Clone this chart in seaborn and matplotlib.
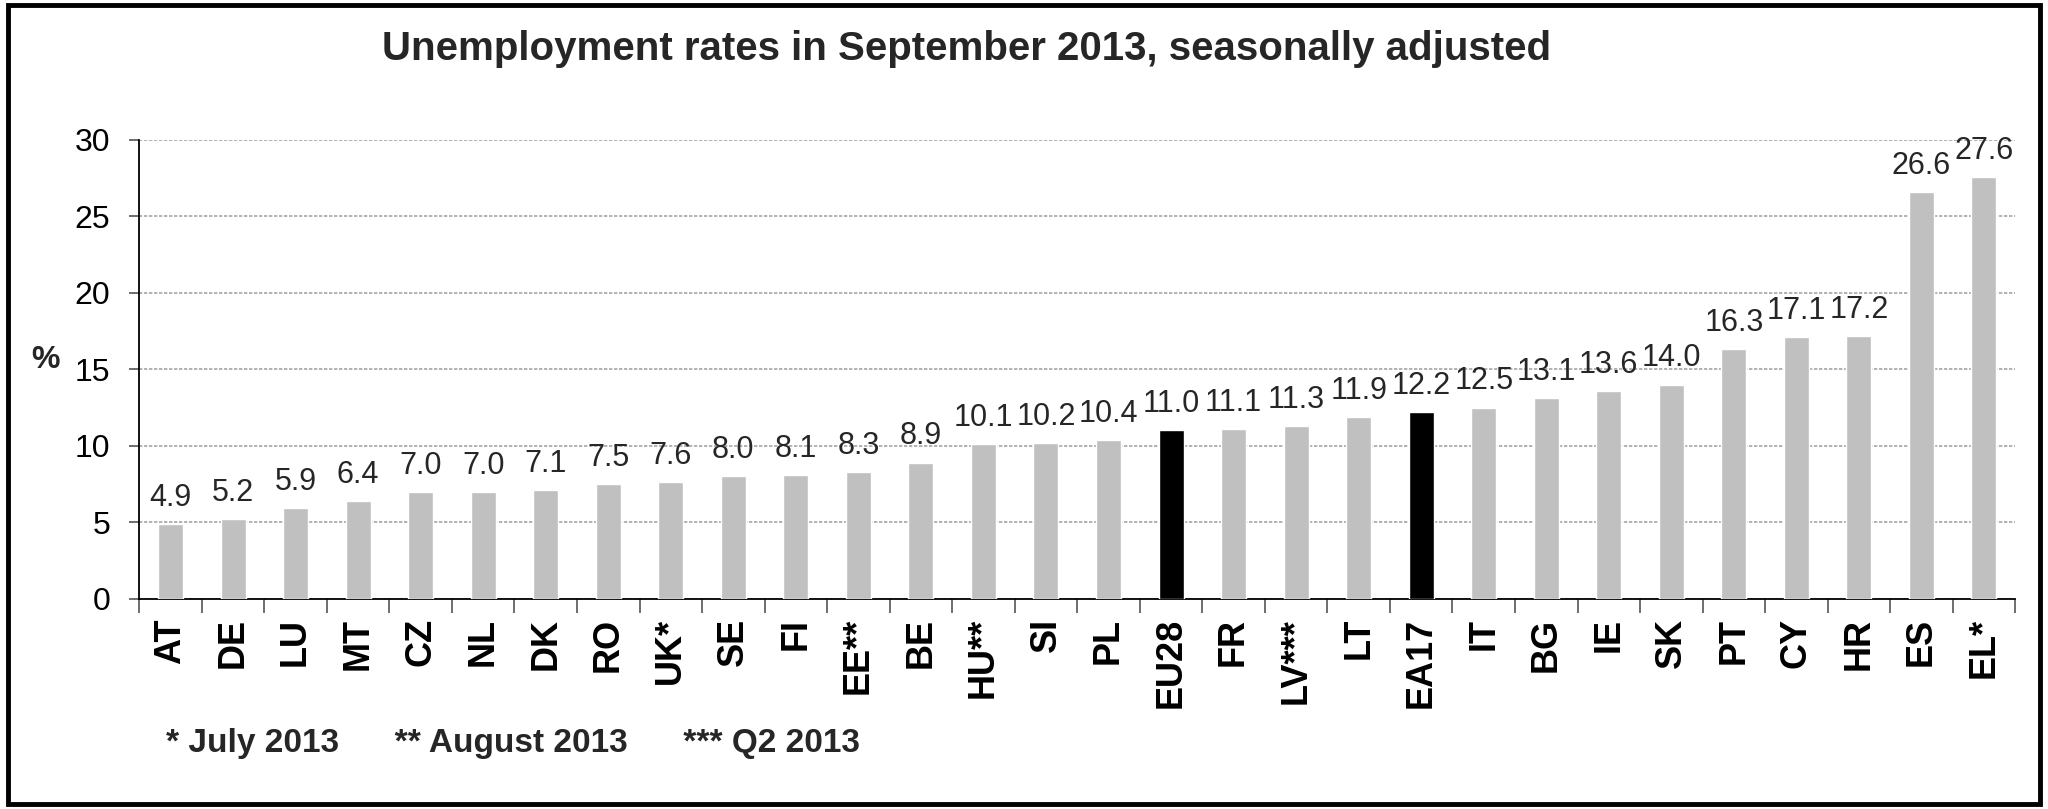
import matplotlib
matplotlib.use("Agg")
import matplotlib.pyplot as plt
from matplotlib.patches import Rectangle
import seaborn as sns
import pandas as pd

# data
countries = ['AT', 'DE', 'LU', 'MT', 'CZ', 'NL', 'DK', 'RO', 'UK*', 'SE', 'FI', 'EE**',
             'BE', 'HU**', 'SI', 'PL', 'EU28', 'FR', 'LV***', 'LT', 'EA17', 'IT', 'BG',
             'IE', 'SK', 'PT', 'CY', 'HR', 'ES', 'EL*']
rates = [4.9, 5.2, 5.9, 6.4, 7.0, 7.0, 7.1, 7.5, 7.6, 8.0, 8.1, 8.3,
         8.9, 10.1, 10.2, 10.4, 11.0, 11.1, 11.3, 11.9, 12.2, 12.5, 13.1,
         13.6, 14.0, 16.3, 17.1, 17.2, 26.6, 27.6]
aggregates = ['EU28', 'EA17']
y_ticks = [0, 5, 10, 15, 20, 25, 30]
title = 'Unemployment rates in September 2013, seasonally adjusted'
footnote = '* July 2013      ** August 2013      *** Q2 2013'

sns.set_theme(style='white')
plt.rcParams['font.family'] = ['Liberation Sans', 'DejaVu Sans']

df = pd.DataFrame({'country': countries, 'rate': rates})
colors = ['#000000' if c in aggregates else '#C0C0C0' for c in countries]

fig = plt.figure(figsize=(20.48, 8.09), dpi=100)
ax = fig.add_axes([0.068, 0.26, 0.916, 0.567])

sns.barplot(data=df, x='country', y='rate', hue='country', palette=colors,
            legend=False, width=0.4, saturation=1, ax=ax, zorder=3)

ax.set_ylim(0, 30)
ax.set_xlim(-0.5, len(countries) - 0.5)
ax.set_yticks(y_ticks)
ax.set_xlabel('')
ax.set_ylabel('')

# dashed horizontal gridlines
ax.yaxis.grid(True, linestyle=(0, (2, 1)), color='#A6A6A6', linewidth=1.2, zorder=0)
ax.xaxis.grid(False)

for side in ['top', 'right']:
    ax.spines[side].set_visible(False)
for side in ['left', 'bottom']:
    ax.spines[side].set_color('black')
    ax.spines[side].set_linewidth(1.3)

ax.tick_params(axis='y', which='major', left=True, length=7, width=1.2,
               color='#555555', labelsize=23, pad=14, labelcolor='black')
ax.tick_params(axis='x', which='major', bottom=False, labelsize=26, pad=8,
               labelcolor='black')
for lab in ax.get_xticklabels():
    lab.set_rotation(90)
    lab.set_fontweight('bold')
    lab.set_va('top')

# tick marks between categories
ax.set_xticks([i + 0.5 for i in range(-1, len(countries))], minor=True)
ax.tick_params(axis='x', which='minor', bottom=True, length=10, width=1.2, color='#555555')

for cont in ax.containers:
    ax.bar_label(cont, fmt='%.1f', fontsize=22, padding=8)

fig.text(0.472, 0.94, title, fontsize=29, fontweight='bold', ha='center', va='center')
fig.text(0.022, 0.555, '%', fontsize=23, fontweight='bold', ha='center', va='center')
fig.text(0.081, 0.07, footnote, fontsize=24, fontweight='bold', ha='left', va='baseline')

# outer frame
fig.patches.append(Rectangle((0.004, 0.006), 0.992, 0.988, transform=fig.transFigure,
                             fill=False, edgecolor='black', linewidth=3.5))

fig.savefig('out.png', dpi=100)
